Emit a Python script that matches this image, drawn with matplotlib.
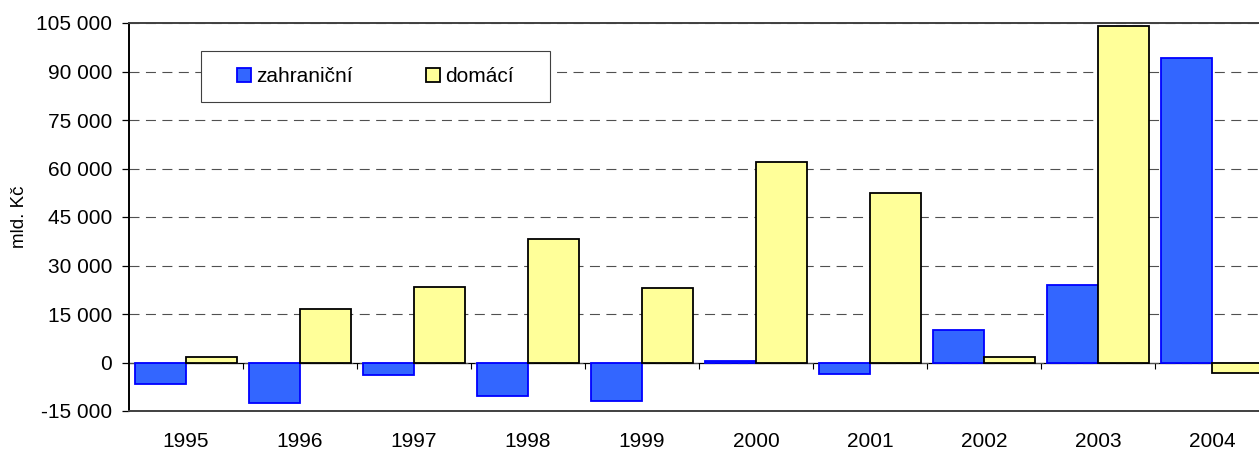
import matplotlib
matplotlib.use("Agg")
import matplotlib.pyplot as plt
import numpy as np
from matplotlib.patches import Rectangle
from matplotlib.ticker import FixedLocator, FuncFormatter

years = ["1995", "1996", "1997", "1998", "1999", "2000", "2001", "2002", "2003", "2004"]
zahranicni = [-6500, -12400, -4000, -10300, -12000, 500, -3700, 9900, 23900, 94200]
domaci = [1600, 16400, 23500, 38300, 22900, 61900, 52400, 1600, 104000, -3400]
y_ticks = [-15000, 0, 15000, 30000, 45000, 60000, 75000, 90000, 105000]

BLUE_FILL, BLUE_EDGE = "#3366FF", "#0000FF"
YELLOW_FILL = "#FFFF99"
FONT = "Liberation Sans"
FS = 15

W, H = 1259, 450
fig = plt.figure(figsize=(W / 100, H / 100), dpi=100)
plt.rcParams["font.family"] = [FONT, "DejaVu Sans"]

# plot area in pixels: left 129, top 23, bottom 411, 114 px per year (runs past the right edge)
ax = fig.add_axes([129 / W, 39 / H, 1140 / W, 388 / H])

x = np.arange(len(years))
bw = 0.443
b1 = ax.bar(x - bw / 2, zahranicni, bw, color=BLUE_FILL, edgecolor=BLUE_EDGE,
            linewidth=1.3, label="zahraniční", zorder=2)
b2 = ax.bar(x + bw / 2, domaci, bw, color=YELLOW_FILL, edgecolor="black",
            linewidth=1.3, label="domácí", zorder=2)

ax.set_xlim(-0.5, len(years) - 0.5)
ax.set_ylim(y_ticks[0], y_ticks[-1])

ax.yaxis.set_major_locator(FixedLocator(y_ticks))
ax.yaxis.set_major_formatter(FuncFormatter(lambda v, _: f"{v:,.0f}".replace(",", " ")))
ax.set_axisbelow(True)
ax.yaxis.grid(True, color="#505050", linewidth=0.8, linestyle=(0, (9, 5.8)))
ax.tick_params(axis="y", direction="out", length=5, width=0.9, pad=7, labelsize=FS)

ax.set_xticks(x)
ax.set_xticklabels(years)
ax.tick_params(axis="x", length=0, pad=15, labelsize=FS)

ax.spines["right"].set_visible(False)
ax.spines["left"].set_linewidth(1.4)
for side in ("top", "bottom"):
    ax.spines[side].set_color("#404040")
    ax.spines[side].set_linewidth(1.4)

# category axis crossing at zero, with boundary ticks hanging down
sec = ax.secondary_xaxis(0, transform=ax.transData)
sec.set_xticks(np.arange(0.5, len(years) - 0.5, 1.0))
sec.tick_params(axis="x", direction="out", length=4.5, width=0.8, labelbottom=False)
for s in sec.spines.values():
    s.set_color("black")
    s.set_linewidth(0.9)

fig.text(19 / W, 1 - 217 / H, "mld. Kč", rotation=90, ha="center", va="center", fontsize=13.5)

# legend with hand-placed frame
frame = Rectangle((201 / W, 1 - 102 / H), 349 / W, 51 / H, transform=fig.transFigure,
                  facecolor="white", edgecolor="#404040", linewidth=0.8, zorder=4, clip_on=False)
ax.add_artist(frame)
ax.legend(handles=[b1, b2], loc="center left", bbox_to_anchor=(227 / W, 1 - 76.5 / H),
          bbox_transform=fig.transFigure, ncol=2, frameon=False, fontsize=FS,
          borderpad=0, handlelength=0.67, handleheight=0.67, handletextpad=0.24,
          columnspacing=3.5)

fig.savefig("out.png", dpi=100)
